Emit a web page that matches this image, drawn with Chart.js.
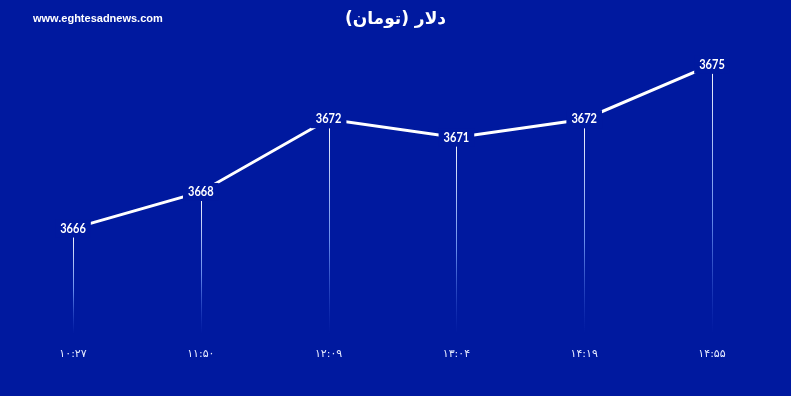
<!DOCTYPE html>
<html>
<head>
<meta charset="utf-8">
<script src="https://cdn.jsdelivr.net/npm/chart.js@4"></script>
<style>
  html, body { margin:0; padding:0; background:#00199f; }
  #wrap { position:relative; width:791px; height:396px; background:#00199f; overflow:hidden; }
  #site { position:absolute; left:33px; top:12px; color:#fff; font:bold 11px "Liberation Sans", Arial, sans-serif; }
  #title { position:absolute; left:0; width:791px; top:8px; text-align:center; color:#fff; font:bold 17px "DejaVu Sans", sans-serif; direction:rtl; }
  canvas { position:absolute; left:0; top:0; }
</style>
</head>
<body>
<div id="wrap">
  <canvas id="c" width="791" height="396"></canvas>
  <div id="site">www.eghtesadnews.com</div>
  <div id="title">دلار (تومان)</div>
</div>
<script>
const BG = '#00199f';
const categories = ['۱۰:۲۷', '۱۱:۵۰', '۱۲:۰۹', '۱۳:۰۴', '۱۴:۱۹', '۱۴:۵۵'];
const dollarValues = [3666, 3668, 3672, 3671, 3672, 3675];
const yMin = 3660.2;
const yMax = 3676.3;

const dropLines = {
  id: 'dropLines',
  beforeDatasetsDraw(chart) {
    const ctx = chart.ctx;
    const bottom = chart.chartArea.bottom;
    chart.getDatasetMeta(0).data.forEach(pt => {
      const top = pt.y + 9;
      const g = ctx.createLinearGradient(0, top, 0, bottom);
      g.addColorStop(0, 'rgba(255,255,255,0.95)');
      g.addColorStop(0.55, 'rgba(130,170,255,0.8)');
      g.addColorStop(1, 'rgba(60,100,230,0.0)');
      ctx.save();
      ctx.strokeStyle = g;
      ctx.lineWidth = 1;
      ctx.beginPath();
      ctx.moveTo(Math.round(pt.x) + 0.5, top);
      ctx.lineTo(Math.round(pt.x) + 0.5, bottom);
      ctx.stroke();
      ctx.restore();
    });
  }
};

const valueLabels = {
  id: 'valueLabels',
  afterDatasetsDraw(chart) {
    const ctx = chart.ctx;
    const ds = chart.data.datasets[0];
    const sx = 0.85;
    chart.getDatasetMeta(0).data.forEach((pt, i) => {
      const txt = String(ds.data[i]);
      ctx.save();
      ctx.font = 'bold 13px Lato, "Open Sans", sans-serif';
      ctx.textAlign = 'center';
      ctx.textBaseline = 'middle';
      const w = ctx.measureText(txt).width * sx + 10;
      ctx.fillStyle = BG;
      ctx.fillRect(pt.x - w / 2, pt.y - 9, w, 18);
      ctx.translate(pt.x, pt.y);
      ctx.scale(sx, 1);
      ctx.fillStyle = '#ffffff';
      ctx.fillText(txt, 0, 0);
      ctx.restore();
    });
  }
};

new Chart(document.getElementById('c'), {
  type: 'line',
  data: {
    labels: categories,
    datasets: [{
      data: dollarValues,
      borderColor: '#ffffff',
      borderWidth: 3,
      pointRadius: 0,
      tension: 0,
      fill: false
    }]
  },
  options: {
    responsive: false,
    animation: false,
    layout: { padding: { top: 41, left: 73, right: 79, bottom: 29 } },
    plugins: { legend: { display: false }, tooltip: { enabled: false }, title: { display: false } },
    scales: {
      x: {
        offset: false,
        grid: { display: false },
        border: { display: false },
        ticks: { color: '#e6ebff', font: { family: '"DejaVu Sans", sans-serif', size: 11 }, padding: 6, maxRotation: 0 }
      },
      y: { display: false, min: yMin, max: yMax }
    }
  },
  plugins: [dropLines, valueLabels]
});
</script>
</body>
</html>
